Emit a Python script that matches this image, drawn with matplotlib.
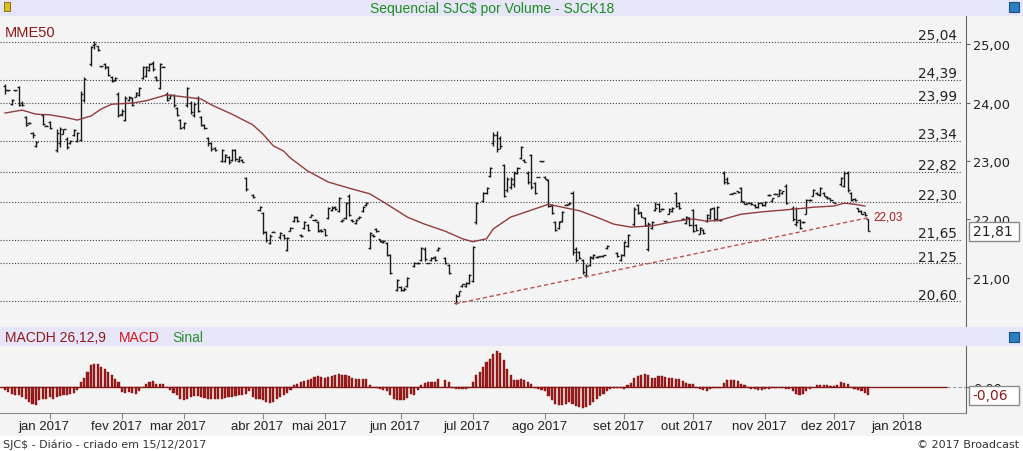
import numpy as np
import pandas as pd
import matplotlib
matplotlib.use("Agg")
import matplotlib.pyplot as plt
from matplotlib.patches import Rectangle
from matplotlib import transforms

nan = np.nan

# daily bars, SJC$ continuous contract (one entry per trading day, nan = no trade)
highs = [24.32, 24.22, 24.06, 24.22, 24.28, 24.02, 23.77, 23.66, 23.50, 23.34,
         nan, 23.80, 23.61, 23.68, nan, 23.55, 23.58, 23.55, 23.41, 23.36,
         23.55, 23.50, 24.20, 24.44, nan, 24.97, 25.05, 24.97, 24.63, 24.68,
         24.62, 24.45, 24.44, 24.18, 23.89, 24.11, 24.11, 24.09, 24.18, 24.26,
         24.62, 24.62, 24.68, 24.71, 24.45, 24.68, 24.62, 24.18, 24.15, 24.15,
         23.92, 23.72, 23.67, 24.26, 24.03, 24.01, 24.11, 23.77, 23.63, 23.41,
         23.32, 23.24, nan, 23.20, 23.12, 23.09, 23.20, 23.20, 23.09, 23.03,
         22.73, nan, 22.44, nan, 22.23, 22.13, 21.80, 21.75, 21.80, nan,
         21.79, 21.75, 21.70, 21.87, 22.06, 22.06, 21.75, 21.97, 21.92, 22.09,
         22.01, 21.97, 21.84, 21.84, 22.21, 22.23, 22.23, 22.38, 22.01, 22.30,
         22.44, 22.01, 22.01, 22.06, 22.23, 22.30, 21.79, 21.75, 21.85, 21.67,
         21.65, 21.62, 21.41, nan, 20.98, 20.86, 20.84, 21.02, nan, 21.27,
         21.27, 21.53, 21.53, 21.26, 21.36, 21.38, 21.53, nan, 21.36, 21.24,
         nan, 20.73, 20.78, 20.90, 20.93, 21.07, 21.55, 22.30, nan, 22.47,
         22.56, 22.90, 23.50, 23.51, 23.43, 22.95, 22.73, 22.73, 22.83, 22.90,
         23.26, 23.03, 22.83, 23.12, 22.64, 22.73, 23.00, 22.74, 22.69, 22.26,
         21.97, 21.97, 22.15, 22.26, 22.30, 22.49, 21.53, 21.46, 21.32, 21.24,
         21.38, 21.41, 21.37, 21.38, 21.40, 21.56, nan, nan, 21.44, 21.41,
         21.63, 21.75, nan, 22.21, 22.26, 22.13, 22.04, 21.96, 21.97, 22.30,
         22.28, 22.19, 21.98, 22.20, 22.21, 22.47, 22.30, 22.02, 22.06, 22.04,
         22.18, 21.92, 21.87, 21.84, 22.09, 22.20, 22.21, 22.23, 22.00, 22.83,
         22.73, 22.45, 22.47, 22.49, 22.56, 22.32, 22.30, 22.30, 22.26, 22.30,
         22.30, 22.32, 22.43, 22.37, 22.45, 22.52, 22.49, 22.61, nan, 22.23,
         22.21, 22.01, 21.97, 22.35, 22.35, 22.52, 22.47, 22.56, 22.47, 22.40,
         22.37, 22.30, nan, 22.73, 22.83, 22.83, 22.47, 22.37, 22.20, 22.16,
         22.13, 22.01]
lows = [24.15, 24.20, 23.96, 24.20, 23.94, 23.94, 23.60, 23.64, 23.39, 23.24,
        nan, 23.62, 23.59, 23.55, nan, 23.15, 23.24, 23.46, 23.21, 23.29,
        23.43, 23.32, 23.34, 24.01, nan, 24.62, 24.91, 24.88, 24.61, 24.57,
        24.45, 24.35, 24.37, 23.75, 23.77, 23.68, 24.03, 23.94, 24.09, 24.11,
        24.40, 24.44, 24.54, 24.54, 24.37, 24.23, 24.60, 24.03, 24.06, 23.92,
        23.77, 23.55, 23.55, 23.92, 23.80, 23.75, 23.84, 23.60, 23.55, 23.26,
        23.17, 23.17, nan, 22.98, 22.98, 22.95, 23.00, 23.00, 22.98, 22.98,
        22.49, nan, 22.37, nan, 22.15, 21.75, 21.62, 21.58, 21.78, nan,
        21.67, 21.67, 21.46, 21.80, 21.96, 21.96, 21.70, 21.84, 21.80, 22.04,
        21.97, 21.79, 21.79, 21.72, 22.01, 22.15, 22.17, 22.13, 21.96, 22.01,
        22.06, 21.96, 21.92, 22.01, 22.13, 22.23, 21.50, 21.70, 21.79, 21.62,
        21.60, 21.38, 21.07, nan, 20.78, 20.78, 20.78, 20.85, nan, 21.19,
        21.24, 21.29, 21.29, 21.26, 21.29, 21.29, 21.46, nan, 21.24, 21.07,
        nan, 20.56, 20.69, 20.85, 20.85, 20.90, 20.93, 21.92, nan, 22.30,
        22.44, 22.73, 23.26, 23.15, 23.21, 22.38, 22.47, 22.52, 22.56, 22.78,
        23.03, 22.98, 22.61, 22.52, 22.44, 22.72, 22.99, 22.69, 22.21, 22.09,
        21.80, 21.84, 21.96, 22.24, 22.25, 21.40, 21.27, 21.32, 21.07, 21.02,
        21.21, 21.32, 21.35, 21.36, 21.36, 21.50, nan, nan, 21.36, 21.29,
        21.38, 21.53, nan, 21.89, 22.09, 22.04, 21.89, 21.46, 21.84, 22.15,
        22.13, 22.17, 21.96, 22.09, 22.13, 22.21, 22.18, 22.00, 21.92, 21.89,
        21.79, 21.80, 21.75, 21.75, 21.96, 22.01, 21.98, 21.98, 21.98, 22.61,
        22.61, 22.43, 22.45, 22.46, 22.30, 22.26, 22.28, 22.25, 22.20, 22.20,
        22.23, 22.23, 22.41, 22.30, 22.43, 22.40, 22.44, 22.26, nan, 21.97,
        21.89, 21.84, 21.94, 22.09, 22.32, 22.40, 22.42, 22.40, 22.40, 22.35,
        22.32, 22.28, nan, 22.57, 22.56, 22.47, 22.32, 22.32, 22.13, 22.09,
        22.06, 21.80]
opens = [24.28, 24.21, 23.98, 24.21, 24.26, 24.00, 23.75, 23.65, 23.48, 23.26,
         nan, 23.78, 23.60, 23.66, nan, 23.18, 23.30, 23.47, 23.38, 23.30,
         23.44, 23.34, 23.36, 24.05, nan, 24.65, 24.98, 24.96, 24.62, 24.66,
         24.60, 24.44, 24.38, 24.15, 23.80, 23.70, 24.05, 24.07, 24.10, 24.12,
         24.42, 24.46, 24.56, 24.68, 24.44, 24.25, 24.61, 24.15, 24.07, 24.13,
         23.90, 23.70, 23.58, 23.95, 24.00, 23.78, 24.08, 23.75, 23.62, 23.39,
         23.30, 23.22, nan, 23.00, 23.00, 23.07, 23.02, 23.18, 23.00, 23.02,
         22.71, nan, 22.42, nan, 22.17, 22.11, 21.78, 21.60, 21.79, nan,
         21.70, 21.74, 21.48, 21.81, 21.98, 22.04, 21.74, 21.85, 21.90, 22.05,
         21.99, 21.95, 21.82, 21.83, 22.02, 22.17, 22.22, 22.15, 21.98, 22.03,
         22.40, 21.99, 21.94, 22.02, 22.14, 22.24, 21.52, 21.74, 21.84, 21.66,
         21.61, 21.60, 21.39, nan, 20.80, 20.85, 20.80, 20.87, nan, 21.20,
         21.25, 21.31, 21.50, 21.26, 21.30, 21.36, 21.47, nan, 21.34, 21.22,
         nan, 20.58, 20.70, 20.86, 20.86, 20.92, 20.95, 21.95, nan, 22.32,
         22.45, 22.75, 23.30, 23.45, 23.40, 22.93, 22.50, 22.55, 22.60, 22.80,
         23.05, 23.02, 22.80, 23.10, 22.62, 22.73, 23.00, 22.72, 22.67, 22.24,
         21.95, 21.85, 21.98, 22.25, 22.26, 22.45, 21.50, 21.44, 21.30, 21.05,
         21.22, 21.34, 21.36, 21.37, 21.37, 21.51, nan, nan, 21.42, 21.30,
         21.40, 21.55, nan, 21.92, 22.24, 22.12, 22.02, 21.50, 21.85, 22.17,
         22.26, 22.18, 21.97, 22.10, 22.14, 22.45, 22.28, 22.01, 21.94, 22.02,
         22.16, 21.90, 21.76, 21.82, 21.98, 22.02, 22.19, 22.00, 21.99, 22.80,
         22.70, 22.44, 22.46, 22.48, 22.54, 22.30, 22.29, 22.29, 22.25, 22.22,
         22.29, 22.25, 22.42, 22.31, 22.44, 22.41, 22.45, 22.58, nan, 22.20,
         21.92, 21.99, 21.95, 22.10, 22.33, 22.41, 22.46, 22.42, 22.46, 22.39,
         22.36, 22.30, nan, 22.60, 22.58, 22.80, 22.45, 22.35, 22.19, 22.15,
         22.12, 22.00]
closes = [24.22, 24.21, 24.05, 24.21, 23.96, 23.95, 23.62, 23.65, 23.44, 23.32,
          nan, 23.64, 23.60, 23.56, nan, 23.48, 23.55, 23.54, 23.24, 23.35,
          23.53, 23.48, 24.15, 24.40, nan, 24.95, 25.00, 24.89, 24.62, 24.60,
          24.47, 24.37, 24.42, 23.78, 23.86, 24.08, 24.10, 23.96, 24.17, 24.25,
          24.60, 24.60, 24.66, 24.58, 24.39, 24.65, 24.61, 24.05, 24.13, 23.95,
          23.79, 23.57, 23.65, 24.24, 23.83, 23.98, 23.86, 23.62, 23.57, 23.30,
          23.20, 23.19, nan, 23.18, 23.10, 22.98, 23.18, 23.03, 23.07, 22.99,
          22.52, nan, 22.39, nan, 22.21, 21.78, 21.65, 21.72, 21.79, nan,
          21.77, 21.69, 21.68, 21.86, 22.04, 21.98, 21.72, 21.95, 21.82, 22.08,
          21.99, 21.81, 21.80, 21.74, 22.19, 22.20, 22.18, 22.36, 21.99, 22.28,
          22.08, 21.97, 21.99, 22.05, 22.21, 22.29, 21.77, 21.72, 21.80, 21.63,
          21.64, 21.40, 21.09, nan, 20.96, 20.79, 20.82, 21.00, nan, 21.25,
          21.26, 21.51, 21.33, 21.26, 21.35, 21.31, 21.52, nan, 21.26, 21.09,
          nan, 20.70, 20.77, 20.89, 20.92, 21.05, 21.53, 22.28, nan, 22.45,
          22.54, 22.88, 23.45, 23.20, 23.25, 22.40, 22.70, 22.70, 22.80, 22.88,
          23.24, 22.99, 22.64, 22.55, 22.46, 22.73, 23.00, 22.70, 22.23, 22.11,
          21.82, 21.95, 22.13, 22.25, 22.29, 21.45, 21.30, 21.34, 21.10, 21.20,
          21.36, 21.40, 21.36, 21.37, 21.39, 21.55, nan, nan, 21.38, 21.39,
          21.61, 21.73, nan, 22.18, 22.11, 22.05, 21.91, 21.93, 21.95, 22.20,
          22.15, 22.18, 21.97, 22.18, 22.20, 22.23, 22.20, 22.01, 22.04, 21.91,
          21.81, 21.82, 21.85, 21.77, 22.07, 22.18, 22.00, 22.21, 21.99, 22.64,
          22.63, 22.44, 22.46, 22.47, 22.32, 22.27, 22.29, 22.26, 22.22, 22.28,
          22.24, 22.30, 22.42, 22.36, 22.44, 22.50, 22.48, 22.28, nan, 22.00,
          21.95, 21.86, 21.96, 22.33, 22.34, 22.50, 22.43, 22.54, 22.41, 22.36,
          22.33, 22.29, nan, 22.71, 22.80, 22.50, 22.34, 22.33, 22.14, 22.10,
          22.08, 21.81]

# MME50 (bar index, value)
mme_idx = [0, 5, 9, 13, 18, 21, 25, 28, 31, 37, 41, 47, 50, 53, 57, 60, 66, 72, 75, 78,
           81, 83, 88, 94, 101, 106, 110, 117, 122, 128, 133, 136, 140, 142, 147, 153, 158,
           162, 167, 172, 177, 182, 188, 195, 200, 204, 208, 214, 220, 226, 230, 235, 241,
           244, 247, 250]
mme_val = [23.82, 23.87, 23.80, 23.79, 23.74, 23.70, 23.77, 23.89, 23.97, 23.99, 24.03,
           24.13, 24.11, 24.09, 24.06, 23.96, 23.80, 23.62, 23.46, 23.26, 23.17, 23.05,
           22.83, 22.64, 22.52, 22.44, 22.30, 22.04, 21.92, 21.80, 21.67, 21.62, 21.67,
           21.84, 22.04, 22.16, 22.26, 22.21, 22.15, 22.04, 21.92, 21.87, 21.89, 21.97,
           22.01, 21.97, 21.99, 22.09, 22.13, 22.16, 22.18, 22.21, 22.23, 22.28, 22.26,
           22.23]

# MACD histogram (26,12,9)
macd_hist = [-0.022, -0.036, -0.050, -0.058, -0.058, -0.072, -0.086, -0.108, -0.122, -0.130,
             -0.094, -0.086, -0.086, -0.072, -0.086, -0.072, -0.065, -0.058, -0.058, -0.050,
             -0.043, -0.022, 0.036, 0.065, 0.108, 0.158, 0.166, 0.166, 0.144, 0.130,
             0.108, 0.086, 0.058, 0.036, -0.036, -0.043, -0.036, -0.043, -0.050, -0.029,
             0.000, 0.022, 0.036, 0.043, 0.022, 0.022, 0.022, 0.000, -0.022, -0.043,
             -0.058, -0.086, -0.094, -0.086, -0.072, -0.065, -0.065, -0.072, -0.079, -0.086,
             -0.086, -0.086, -0.086, -0.086, -0.079, -0.072, -0.072, -0.065, -0.058, -0.058,
             -0.050, -0.029, -0.072, -0.086, -0.086, -0.094, -0.108, -0.115, -0.108, -0.086,
             -0.072, -0.058, -0.043, -0.022, 0.014, 0.022, 0.036, 0.043, 0.050, 0.058,
             0.072, 0.079, 0.072, 0.065, 0.072, 0.079, 0.086, 0.094, 0.086, 0.086,
             0.079, 0.065, 0.058, 0.058, 0.058, 0.058, 0.014, 0.000, -0.007, -0.014,
             -0.022, -0.029, -0.058, -0.086, -0.094, -0.094, -0.094, -0.079, -0.050, -0.058,
             -0.022, 0.014, 0.029, 0.036, 0.036, 0.036, 0.058, 0.000, 0.050, 0.036,
             -0.007, -0.014, -0.014, -0.014, -0.014, -0.007, 0.036, 0.086, 0.108, 0.144,
             0.180, 0.200, 0.238, 0.259, 0.245, 0.194, 0.130, 0.086, 0.050, 0.050,
             0.058, 0.050, 0.036, 0.022, -0.007, -0.014, -0.022, -0.029, -0.065, -0.094,
             -0.122, -0.130, -0.130, -0.122, -0.108, -0.122, -0.137, -0.144, -0.151, -0.144,
             -0.130, -0.108, -0.086, -0.065, -0.050, -0.029, -0.014, -0.007, -0.007, -0.007,
             -0.014, 0.014, 0.029, 0.065, 0.079, 0.086, 0.094, 0.086, 0.065, 0.065,
             0.079, 0.079, 0.072, 0.065, 0.065, 0.058, 0.058, 0.043, 0.029, 0.022,
             0.022, -0.007, -0.014, -0.022, -0.029, -0.014, -0.007, -0.007, -0.007, 0.029,
             0.050, 0.050, 0.050, 0.043, 0.022, 0.014, 0.000, -0.014, -0.014, -0.022,
             -0.022, -0.014, -0.014, -0.007, -0.007, 0.000, -0.007, -0.014, -0.014, -0.029,
             -0.050, -0.058, -0.050, -0.029, -0.014, 0.000, 0.014, 0.014, 0.014, 0.014,
             0.007, 0.007, 0.014, 0.036, 0.029, 0.022, 0.000, -0.014, -0.022, -0.029,
             -0.043, -0.060]

levels = [25.04, 24.39, 23.99, 23.34, 22.82, 22.30, 21.65, 21.25, 20.60]
trend_idx = [131, 251]
trend_val = [20.56, 22.03]
last_close = 21.81
last_hist = -0.06
months_pt = ['jan', 'fev', 'mar', 'abr', 'mai', 'jun', 'jul', 'ago', 'set', 'out', 'nov', 'dez']
holidays = ['2017-01-25', '2017-02-27', '2017-02-28', '2017-04-14', '2017-04-21',
            '2017-05-01', '2017-06-15', '2017-09-07', '2017-10-12', '2017-11-02',
            '2017-11-15', '2017-12-25', '2018-01-01']

W, H = 1023, 452
BG = '#f4f4f4'
BAND = '#e6e6f8'
DARKRED = '#8b1a1a'


def fx(px):
    return px / W


def fy(py):
    return 1 - py / H


def comma(v):
    return f"{v:.2f}".replace('.', ',')


days = pd.bdate_range('2016-12-14', '2018-01-31', freq='C', holidays=holidays)
n = len(highs)
idx = np.arange(n)
xmin, xmax = -1.45, 279.4

fig = plt.figure(figsize=(W / 100, H / 100), dpi=100, facecolor=BG)

# bands and footer
fig.add_artist(Rectangle((0, fy(17)), 1, 17 / H, transform=fig.transFigure, fc=BAND, ec='none'))
fig.add_artist(Rectangle((0, fy(347)), 1, 19 / H, transform=fig.transFigure, fc=BAND, ec='none'))
fig.add_artist(Rectangle((0, 0), 1, 15 / H, transform=fig.transFigure, fc='white', ec='none'))
for yy in (3, 333):
    fig.add_artist(Rectangle((fx(1009), fy(yy + 10)), 10 / W, 10 / H, transform=fig.transFigure,
                             fc='#2a7fc0', ec='#1a4f80', lw=0.8))
fig.add_artist(Rectangle((fx(4), fy(12)), 6 / W, 9 / H, transform=fig.transFigure,
                         fc='#d8c020', ec='#806000', lw=0.6))

# ---- price panel
ax = fig.add_axes([0, fy(327), 966 / W, 310 / H])
ax.set_facecolor(BG)
ax.set_xlim(xmin, xmax)
ax.set_ylim(20.179, 25.479)
for s in ('left', 'top', 'bottom'):
    ax.spines[s].set_visible(False)
ax.spines['right'].set_color('#666666')
ax.set_xticks([])
ax.yaxis.tick_right()
ax.set_yticks([21, 22, 23, 24, 25])
ax.set_yticklabels([comma(v) for v in [21, 22, 23, 24, 25]], fontsize=9.3, color='#222222')
ax.tick_params(axis='y', length=3, width=0.8, color='#666666', pad=2)

ax.hlines(levels, xmin, 277.9, colors='#444444', linestyles=(0, (1, 1.6)), lw=0.8)
for lv in levels:
    ax.annotate(comma(lv), (276.7, lv), xytext=(0, 2), textcoords='offset points',
                ha='right', va='baseline', fontsize=9.8, color='#222222')

hi = np.array(highs)
lo = np.array(lows)
op = np.array(opens)
cl = np.array(closes)
ok = ~np.isnan(hi)
ax.vlines(idx[ok], lo[ok], hi[ok], colors='#1a1a1a', lw=1.0)
ax.hlines(op[ok], idx[ok] - 0.6, idx[ok], colors='#1a1a1a', lw=1.0)
ax.hlines(cl[ok], idx[ok], idx[ok] + 0.6, colors='#1a1a1a', lw=1.0)

ax.plot(mme_idx, mme_val, color='#923c3c', lw=1.0)
ax.plot(trend_idx, trend_val, color='#c05050', lw=1.0, ls=(0, (3, 2)))
ax.text(trend_idx[1] + 1.5, trend_val[1] + 0.02, comma(trend_val[1]), fontsize=8.5,
        color='#a01c1c', family='Liberation Sans', va='center', ha='left')
ax.text(0.005, 0.97, 'MME50', transform=ax.transAxes, fontsize=10.5, color=DARKRED,
        family='Liberation Sans', va='top', ha='left')

# ---- MACD panel
ax2 = fig.add_axes([0, fy(414), 966 / W, 67 / H])
ax2.set_facecolor(BG)
ax2.set_xlim(xmin, xmax)
ax2.set_ylim(-0.187, 0.295)
for s in ('left', 'top'):
    ax2.spines[s].set_visible(False)
ax2.spines['right'].set_color('#666666')
ax2.spines['bottom'].set_color('#888888')
ax2.yaxis.tick_right()
ax2.set_yticks([0])
ax2.set_yticklabels(['0,00'], fontsize=9.3, color='#222222')
ax2.tick_params(axis='y', length=3, width=0.8, color='#666666', pad=2)
ax2.plot([xmin, 274], [0, 0], color=DARKRED, lw=1.0, zorder=1)
ax2.plot([274, xmax], [0, 0], color='#999999', lw=0.8, ls=(0, (3, 2)), zorder=1)
ax2.bar(idx, macd_hist, width=0.62, color='#9b1b1b', edgecolor='#7a1010', lw=0.3, zorder=2)

month_pos = []
month_lbl = []
for k in range(1, len(days)):
    if days[k].month != days[k - 1].month and k <= xmax:
        month_pos.append(k)
        month_lbl.append(f"{months_pt[days[k].month - 1]} {days[k].year}")
ax2.set_xticks(month_pos)
ax2.set_xticklabels([])
ax2.tick_params(axis='x', length=4, width=0.8, color='#888888', direction='out')
tr = transforms.blended_transform_factory(ax2.transData, fig.transFigure)
for p, lbl in zip(month_pos, month_lbl):
    ax2.text(p - 1.7, fy(427), lbl, transform=tr, ha='center', va='center', fontsize=9.5,
             family='Liberation Sans', color='#222222')

# headers
fig.text(fx(492), fy(8.5), 'Sequencial SJC$ por Volume - SJCK18', ha='center', va='center',
         fontsize=10, color='#1e8c1e', family='Liberation Sans')
fig.text(fx(5), fy(338), 'MACDH 26,12,9', ha='left', va='center', fontsize=10,
         color=DARKRED, family='Liberation Sans')
fig.text(fx(119), fy(338), 'MACD', ha='left', va='center', fontsize=10,
         color='#d01818', family='Liberation Sans')
fig.text(fx(172), fy(338), 'Sinal', ha='left', va='center', fontsize=10,
         color='#2e8b2e', family='Liberation Sans')

# value boxes (they sit over the 22,00 and 0,00 tick labels, as in the original)
fig.add_artist(Rectangle((fx(969), fy(242)), 50 / W, 19 / H, transform=fig.transFigure,
                         fc='white', ec='#8a8a8a', lw=1, zorder=5))
fig.text(fx(973), fy(232.5), comma(last_close), ha='left', va='center', fontsize=10,
         color='#222222', zorder=6)
fig.add_artist(Rectangle((fx(969), fy(406)), 50 / W, 19 / H, transform=fig.transFigure,
                         fc='white', ec='#8a8a8a', lw=1, zorder=5))
fig.text(fx(972), fy(396.5), comma(last_hist), ha='left', va='center', fontsize=10,
         color=DARKRED, zorder=6)

# footer
fig.text(fx(3), fy(445), 'SJC$ - Diário - criado em 15/12/2017', ha='left', va='center',
         fontsize=8, color='#333333')
fig.text(fx(1019), fy(445), '© 2017 Broadcast', ha='right', va='center',
         fontsize=8, color='#333333')

fig.savefig('out.png', dpi=100, facecolor=BG)
